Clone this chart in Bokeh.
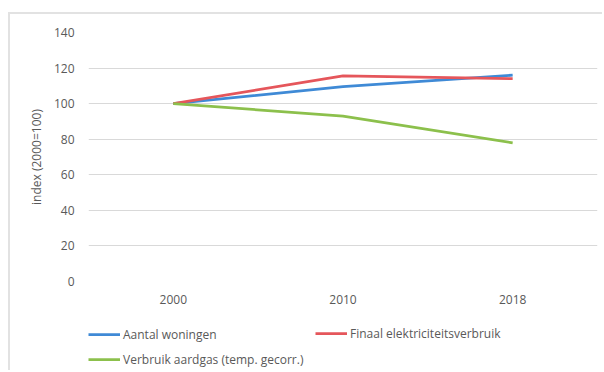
from bokeh.plotting import figure
from bokeh.layouts import column
from bokeh.models import FactorRange, Range1d, Legend, LegendItem, SingleIntervalTicker
from bokeh.embed import file_html
from bokeh.resources import INLINE

years = ["2000", "2010", "2018"]
woningen = [100, 109.6, 116.0]
elektriciteit = [100, 115.6, 114.0]
aardgas = [100, 93.0, 78.0]

names = ["Aantal woningen", "Finaal elektriciteitsverbruik", "Verbruik aardgas (temp. gecorr.)"]
colors = ["#3f8ad6", "#e5565b", "#8cc04c"]

FONT = "Open Sans"
TXT = "#595959"
BORDER = "2px solid #e2e2e2"

# main chart; canvas starts at page (10, 14) because of margin + border
p = figure(width=594, height=298, x_range=FactorRange(*years), y_range=Range1d(0, 140),
           output_backend="svg", toolbar_location=None,
           min_border_left=78, min_border_right=7, min_border_top=18, min_border_bottom=31)
p.margin = (12, 0, 0, 8)
p.styles = {"border-left": BORDER, "border-top": BORDER}
p.outline_line_color = None
p.background_fill_color = "white"
p.border_fill_color = "white"

p.xgrid.grid_line_color = None
p.ygrid.grid_line_color = "#d9d9d9"
p.ygrid.grid_line_width = 1

p.yaxis.ticker = SingleIntervalTicker(interval=20)
p.yaxis.axis_label = "index (2000=100)"
for ax in (p.xaxis, p.yaxis):
    ax.axis_line_color = None
    ax.major_tick_line_color = None
    ax.minor_tick_line_color = None
    ax.major_tick_out = 0
    ax.major_tick_in = 0
    ax.major_label_text_font = FONT
    ax.major_label_text_font_size = "12px"
    ax.major_label_text_color = TXT
p.yaxis.major_label_standoff = 10
p.xaxis.major_label_standoff = 13
p.yaxis.axis_label_text_font = FONT
p.yaxis.axis_label_text_font_size = "12px"
p.yaxis.axis_label_text_font_style = "normal"
p.yaxis.axis_label_text_color = TXT
p.yaxis.axis_label_standoff = 6

series = [woningen, elektriciteit, aardgas]
for vals, c in zip(series, colors):
    p.line(years, vals, line_color=c, line_width=2.75)

# legend strip below the chart
lf = figure(width=594, height=60, x_range=FactorRange(*years), y_range=Range1d(-1000, -999),
            output_backend="svg", toolbar_location=None, x_axis_type=None, y_axis_type=None,
            min_border=0, min_border_left=0, min_border_right=0, min_border_top=0, min_border_bottom=0)
lf.margin = (0, 0, 0, 8)
lf.styles = {"border-left": BORDER}
lf.outline_line_color = None
lf.grid.visible = False
lf.background_fill_color = "white"
lf.border_fill_color = "white"
rs = [lf.line(years, vals, line_color=c, line_width=2.75) for vals, c in zip(series, colors)]

def add_legend(items, loc):
    lg = Legend(items=items, location=loc, orientation="vertical",
                glyph_width=32, glyph_height=20, label_height=20, spacing=5,
                padding=0, margin=0, label_standoff=3,
                border_line_alpha=0, background_fill_alpha=0,
                label_text_font=FONT, label_text_font_size="12px", label_text_color=TXT)
    lf.add_layout(lg, "center")

add_legend([LegendItem(label=names[0], renderers=[rs[0]]),
            LegendItem(label=names[2], renderers=[rs[2]])], (0, 1))
add_legend([LegendItem(label=names[1], renderers=[rs[1]])], (227, 27))

layout = column(p, lf, spacing=0)
open("out.html", "w").write(file_html(layout, INLINE))
